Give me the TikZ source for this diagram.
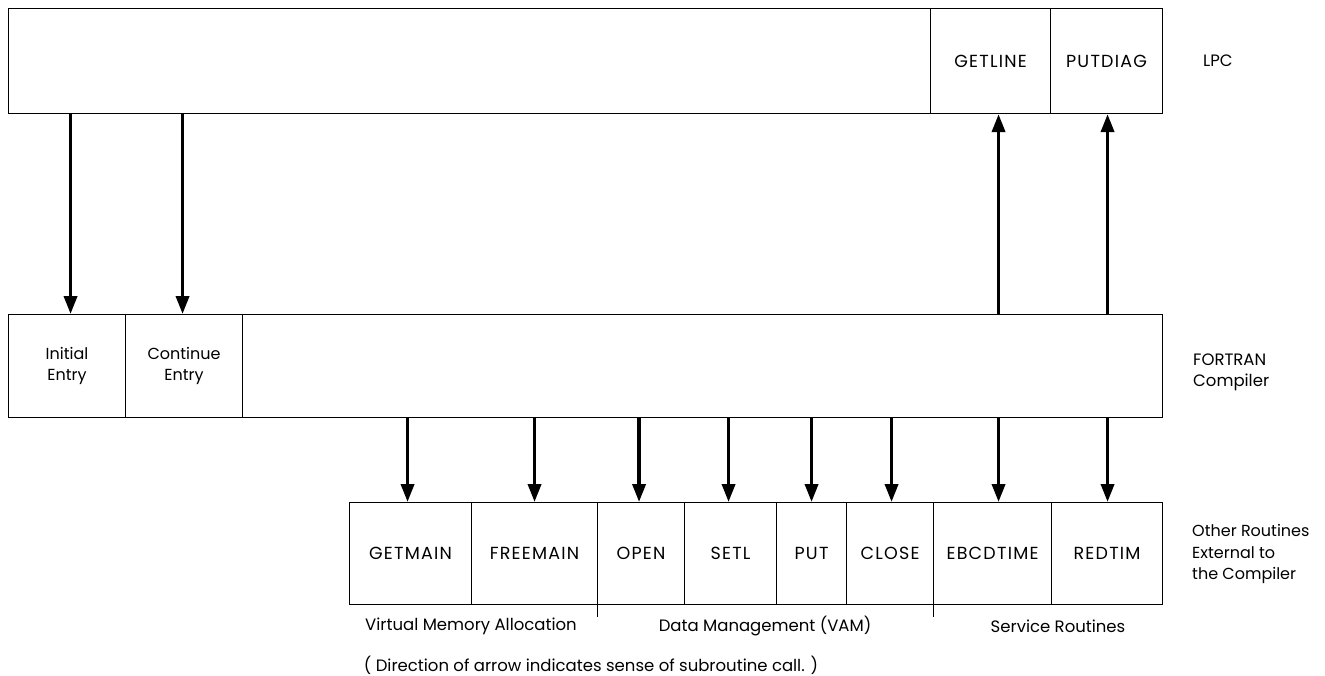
\documentclass[tikz,border=0pt]{standalone}
\usepackage{fontspec}
\setmainfont{Poppins}
\newfontfamily\cellfont{Poppins}[LetterSpace=7]
\usetikzlibrary{arrows.meta}
\begin{document}
\begin{tikzpicture}[x=1pt,y=-1pt,
  cell/.style={draw, line width=1.1pt, inner sep=0pt, anchor=north west,
    font=\cellfont\fontsize{17.5}{21}\selectfont, align=center},
  arr/.style={line width=3.6pt, -{Triangle[length=18pt,width=13pt]}},
  lbl/.style={font=\fontsize{16.5}{21}\selectfont, inner sep=0pt, align=left},
  tick/.style={line width=0.9pt}
]
\useasboundingbox (0,0) rectangle (1325,675);

% LPC row
\node[cell, minimum width=922pt, minimum height=105pt] (lpc) at (8,8) {};
\node[cell, minimum width=120pt, minimum height=105pt] (getline) at (930,8) {GETLINE};
\node[cell, minimum width=112pt, minimum height=105pt] (putdiag) at (1050,8) {PUTDIAG};
\node[lbl, anchor=west] (lpclbl) at (1203,61) {LPC};

% FORTRAN row
\node[cell, minimum width=117pt, minimum height=103pt, font=\fontsize{16}{21}\selectfont] (initial) at (8,314) {Initial\\Entry};
\node[cell, minimum width=117pt, minimum height=103pt, font=\fontsize{16}{21}\selectfont] (continue) at (125,314) {Continue\\Entry};
\node[cell, minimum width=920pt, minimum height=103pt] (fortran) at (242,314) {};
\node[lbl, anchor=west] (fortlbl) at (1193,372) {FORTRAN\\Compiler};

% External routines row
\node[cell, minimum width=122pt, minimum height=102pt] (getmain) at (349,502) {GETMAIN};
\node[cell, minimum width=126pt, minimum height=102pt] (freemain) at (471,502) {FREEMAIN};
\node[cell, minimum width=87pt, minimum height=102pt] (open) at (597,502) {OPEN};
\node[cell, minimum width=92pt, minimum height=102pt] (setl) at (684,502) {SETL};
\node[cell, minimum width=70pt, minimum height=102pt] (put) at (776,502) {PUT};
\node[cell, minimum width=87pt, minimum height=102pt] (close) at (846,502) {CLOSE};
\node[cell, minimum width=118pt, minimum height=102pt] (ebcd) at (933,502) {EBCDTIME};
\node[cell, minimum width=111pt, minimum height=102pt] (redtim) at (1051,502) {REDTIM};
\node[lbl, anchor=west, font=\fontsize{16}{21.5}\selectfont] (extlbl) at (1192,554) {Other Routines\\External to\\the Compiler};

% group labels and ticks
\draw[tick] (open.south west) -- ++(0,12);
\draw[tick] (ebcd.south west) -- ++(0,12);
\node[lbl] (vma) at (471,626) {Virtual Memory Allocation};
\node[lbl] (dm) at (765,626) {Data Management (VAM)};
\node[lbl] (sr) at (1058,626) {Service Routines};
\node[lbl] (cap) at (591,665) {( Direction of arrow indicates sense of subroutine call. )};

% arrow columns
\coordinate (c1) at ([xshift=3.5pt]initial.north);
\coordinate (c2) at ([xshift=-1.5pt]continue.north);
\coordinate (c3) at ([xshift=6pt]ebcd.north);
\coordinate (c4) at ([xshift=0.5pt]redtim.north);

% LPC -> FORTRAN entries
\draw[arr] (c1 |- lpc.south) -- (c1 |- initial.north);
\draw[arr] (c2 |- lpc.south) -- (c2 |- continue.north);

% FORTRAN -> LPC services
\draw[arr] (c3 |- fortran.north) -- (c3 |- getline.south);
\draw[arr] (c4 |- fortran.north) -- (c4 |- putdiag.south);

% FORTRAN -> external routines
\draw[arr] ([xshift=-3pt]getmain.north |- fortran.south) -- ([xshift=-3pt]getmain.north);
\draw[arr] (freemain.north |- fortran.south) -- (freemain.north);
\draw[arr] ([xshift=-2pt]open.north |- fortran.south) -- ([xshift=-2pt]open.north);
\draw[arr] ([xshift=-2pt]setl.north |- fortran.south) -- ([xshift=-2pt]setl.north);
\draw[arr] (put.north |- fortran.south) -- (put.north);
\draw[arr] ([xshift=1.5pt]close.north |- fortran.south) -- ([xshift=1.5pt]close.north);
\draw[arr] (c3 |- fortran.south) -- (ebcd.north -| c3);
\draw[arr] (c4 |- fortran.south) -- (redtim.north -| c4);
\end{tikzpicture}
\end{document}
